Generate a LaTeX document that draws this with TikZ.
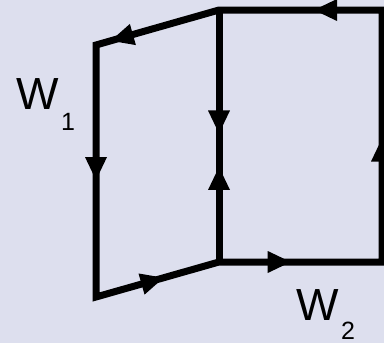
\documentclass[tikz,border=0pt]{standalone}
\usepackage{fontspec}
\setmainfont{Liberation Sans}
\usetikzlibrary{decorations.markings}
\definecolor{bg}{RGB}{221,223,238}
\tikzset{
  edge/.style={line width=7pt, black},
  midtip/.style={decoration={markings, mark=at position #1 with {\fill[black] (0pt,0pt) -- (-23pt,11pt) -- (-23pt,-11pt) -- cycle;}}, postaction={decorate}},
  lbl/.style={font=\fontsize{45}{45}\selectfont, inner sep=0pt},
  sublbl/.style={font=\fontsize{25}{25}\selectfont, inner sep=0pt},
}
\begin{document}
\begin{tikzpicture}[x=1pt,y=-1pt]
\fill[bg] (0,0) rectangle (384,343);
\useasboundingbox (0,0) rectangle (384,343);
\coordinate (tl) at (96,45);
\coordinate (tm) at (219,10);
\coordinate (tr) at (382,10);
\coordinate (br) at (382,262);
\coordinate (bm) at (219,262);
\coordinate (bl) at (96,297);
\draw[edge, line join=miter] (tl) -- (tm) -- (tr) -- (br) -- (bm) -- (bl) -- cycle;
\draw[edge] (tm) -- (bm);
\path[midtip=0.88] (tm) -- (tl);
\path[midtip=0.536] (tl) -- (bl);
\path[midtip=0.55] (bl) -- (bm);
\path[midtip=0.44] (bm) -- (br);
\path[midtip=0.49] (br) -- (tr);
\path[midtip=0.417] (tr) -- (tm);
\path[midtip=0.49] (tm) -- (bm);
\path[midtip=0.377] (bm) -- (tm);
\node[lbl] (w1) at (37.5,94) {W};
\node[sublbl] (w1s) at (68,122) {1};
\node[lbl] (w2) at (318,305) {W};
\node[sublbl] (w2s) at (348,331) {2};
\end{tikzpicture}
\end{document}
